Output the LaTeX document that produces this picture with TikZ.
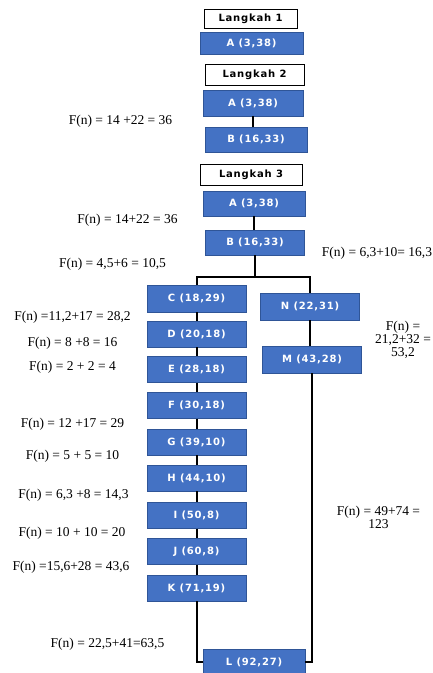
\documentclass[tikz,border=0pt]{standalone}
\usepackage{fontspec}
\setmainfont{Liberation Serif}
\newfontfamily\boxfont[LetterSpace=8]{DejaVu Sans}
\usepackage{xcolor}
\usetikzlibrary{positioning}
\definecolor{boxblue}{HTML}{4472C4}
\definecolor{boxedge}{HTML}{2F5597}
\tikzset{%
	headbox/.style  = {draw, thick, rectangle, minimum width=99pt, minimum height=21pt, inner sep=0pt, text centered, font=\boxfont\bfseries\fontsize{10}{11}\selectfont},
	statebox/.style = {draw=boxedge, fill=boxblue, text=white, rectangle, minimum width=99pt, minimum height=26pt, inner sep=0pt, text centered, font=\boxfont\bfseries\fontsize{10}{11}\selectfont},
	costlabel/.style= {align=center, inner sep=0pt, font=\fontsize{13.5}{13}\selectfont},
	link/.style     = {line width=2pt},
}

\begin{document}
\begin{tikzpicture}[x=1pt,y=-1pt]
	\useasboundingbox (0,0) rectangle (433,673);
	\node[headbox,minimum width=93pt,minimum height=19pt] (step1) at (250.5,18.5) {Langkah 1};
	\node[statebox,minimum width=103pt,minimum height=22pt] (A1) at (251.5,43) {A (3,38)};
	
	\node[headbox] (step2) at (254.5,74.5) {Langkah 2};
	\node[statebox,minimum width=100pt] (A2) at (253,103) {A (3,38)};
	\node[statebox,minimum width=102pt,minimum height=25pt] (B2) at (256,139.5) {B (16,33)};
	\draw[link] (A2.south) -- (A2.south |- B2.north);
	\node[costlabel] (fB2) at (120.5,121) {F(n) = 14 +22 = 36};
	
	\node[headbox,minimum width=102pt] (step3) at (251,174.5) {Langkah 3};
	\node[statebox,minimum width=102pt,minimum height=25pt] (A3) at (254,203.5) {A (3,38)};
	\node[statebox,minimum height=25pt] (B3) at (255,242.5) {B (16,33)};
	\draw[link] (A3.south) -- (A3.south |- B3.north);
	\node[costlabel] (fB3) at (127.5,220) {F(n) = 14+22 = 36};
	
	\node[statebox,minimum height=27pt] (C) at (196.5,298.5) {C (18,29)};
	\node[statebox] (D) at (196.5,334) {D (20,18)};
	\node[statebox] (E) at (196.5,369.5) {E (28,18)};
	\node[statebox] (F) at (196.5,405.5) {F (30,18)};
	\node[statebox] (G) at (196.5,442) {G (39,10)};
	\node[statebox] (H) at (196.5,478) {H (44,10)};
	\node[statebox] (I) at (196.5,515.5) {I (50,8)};
	\node[statebox] (J) at (196.5,551.5) {J (60,8)};
	\node[statebox] (K) at (196.5,588) {K (71,19)};
	\node[statebox,minimum height=27pt] (N) at (310,306.5) {N (22,31)};
	\node[statebox,minimum height=27pt] (M) at (312,359.5) {M (43,28)};
	\node[statebox,minimum width=102pt] (L) at (254,662) {L (92,27)};
	
	\draw[link] (B3.south) -- ++(0,22) coordinate (split);
	\draw[link] (split) -| (C.north);
	\draw[link] (split) -| (N.north);
	\draw[link] (C) -- (D) -- (E) -- (F) -- (G) -- (H) -- (I) -- (J) -- (K);
	\draw[link] (N.south) -- (N.south |- M.north);
	\draw[link] (K.south) |- (L.west);
	\draw[link] (M.south) |- (L.east);
	
	\node[costlabel] (fC) at (112.5,264) {F(n) = 4,5+6 = 10,5};
	\node[costlabel] (fN) at (377,253) {F(n) = 6,3+10= 16,3};
	\node[costlabel] (fD) at (72.5,317) {F(n) =11,2+17 = 28,2};
	\node[costlabel] (fM) at (403,340) {F(n) =\\21,2+32 =\\53,2};
	\node[costlabel] (fE) at (72.5,343) {F(n) = 8 +8 = 16};
	\node[costlabel] (fF) at (72.5,367) {F(n) = 2 + 2 = 4};
	\node[costlabel] (fG) at (72.5,424) {F(n) = 12 +17 = 29};
	\node[costlabel] (fH) at (72.5,456) {F(n) = 5 + 5 = 10};
	\node[costlabel] (fI) at (73.5,495) {F(n) = 6,3 +8 = 14,3};
	\node[costlabel] (fJ) at (72,533) {F(n) = 10 + 10 = 20};
	\node[costlabel] (fK) at (71,567) {F(n) =15,6+28 = 43,6};
	\node[costlabel] (fML) at (378.5,517) {F(n) = 49+74 =\\123};
	\node[costlabel] (fKL) at (107.5,644) {F(n) = 22,5+41=63,5};
\end{tikzpicture}
\end{document}
